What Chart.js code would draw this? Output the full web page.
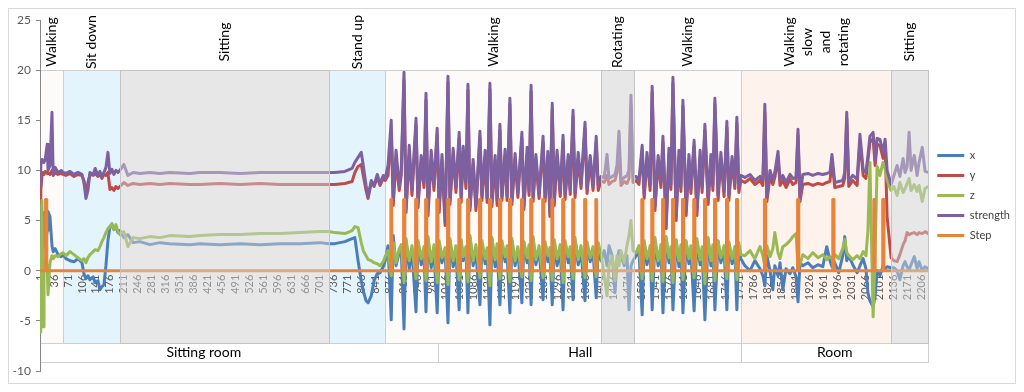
<!DOCTYPE html>
<html>
<head>
<meta charset="utf-8">
<title>Accelerometer activity chart</title>
<script src="https://cdn.jsdelivr.net/npm/chart.js@4.4.1/dist/chart.umd.min.js"></script>
<style>
  html, body { margin: 0; padding: 0; background: #fff; }
</style>
</head>
<body>
<canvas id="chart" width="1024" height="392"></canvas>
<script>
var sampleIdx = [
  1, 3, 6, 9, 11, 14, 19, 21, 26, 31, 34, 39, 46, 54,
  59, 66, 76, 86, 96, 106, 111, 116, 121, 126, 134, 139, 146, 151, 156, 161, 166, 171, 176, 181, 186, 191, 196, 201,
  211, 221, 234, 251, 276, 301, 326, 376, 401, 451, 502, 552, 602, 652, 702, 724,
  739, 764, 782, 789, 797, 805, 810, 817, 822, 830, 837, 845, 852, 860, 865,
  872, 880, 885, 892, 900, 905,
  912, 917, 925, 932, 942, 947, 955, 962, 967, 972, 980, 987, 995, 1000, 1007, 1015,
  1022, 1027, 1035, 1042, 1050, 1055, 1060, 1067, 1072, 1077, 1085, 1092, 1102, 1107, 1115, 1120,
  1127, 1132, 1140, 1145, 1152, 1157, 1165, 1170, 1177, 1182, 1190, 1197, 1207, 1212, 1220, 1225,
  1230, 1235, 1242, 1250, 1260, 1265, 1272, 1277, 1283, 1288, 1295, 1303, 1310, 1315, 1323, 1328,
  1335, 1340, 1348, 1355, 1365, 1370, 1378, 1385, 1393, 1398, 1405,
  1413, 1420, 1425, 1433, 1440, 1445, 1450, 1455, 1463, 1470, 1475, 1480, 1485,
  1493, 1500, 1508, 1513, 1520, 1528, 1533, 1540, 1548, 1555, 1560, 1568, 1575, 1580, 1585, 1593, 1600, 1605,
  1610, 1618, 1625, 1630, 1638, 1645, 1653, 1658, 1665, 1673, 1680, 1685, 1690, 1698, 1705, 1713,
  1720, 1725, 1733, 1740, 1745, 1750, 1755,
  1765, 1778, 1790, 1803, 1810, 1815, 1820, 1828, 1835, 1840, 1848, 1853, 1860, 1868, 1878, 1885,
  1893, 1898, 1903, 1910, 1923, 1935, 1948, 1960, 1970, 1978, 1983, 1990, 2000, 2010, 2015, 2020,
  2025, 2035, 2046, 2053, 2061, 2068, 2073, 2078, 2086, 2091, 2096, 2103, 2111, 2116, 2121, 2131,
  2138, 2146, 2153, 2161, 2166, 2171, 2176, 2181, 2189, 2196, 2201, 2209, 2216, 2224
];

var accX = [
  0.0, 1.5, 0.5, 3.0, 5.8, 2.5, 4.0, 5.9, 5.4, 2.5, 1.9, 2.2, 1.6, 1.4,
  1.6, 1.2, 1.0, 0.9, 1.2, 0.8, -0.3, -0.8, -0.5, -0.9, -0.6, -1.2, -1.0, -1.9, -1.6, -1.4, 0.5, 3.0, 4.4, 4.6, 4.1, 4.4, 3.8, 4.0,
  3.3, 3.6, 2.8, 2.9, 2.6, 2.8, 2.7, 2.6, 2.7, 2.6, 2.7, 2.6, 2.7, 2.7, 2.8, 2.7,
  2.7, 2.9, 3.2, 3.3, 1.0, -1.0, -2.0, -3.0, -3.2, -2.5, -1.0, -0.3, -0.2, 0.4, 1.0,
  2.5, -4.9, 3.5, 0.5, 1.8, 2.2,
  -5.8, 3.0, 0.2, 2.0, -4.1, 2.8, 0.6, 1.6, -4.1, 3.2, 0.3, 2.0, -4.2, 2.6, 0.8, 1.9,
  -5.2, 3.0, 0.4, 1.7, -3.9, 2.9, 1.0, 2.1, -4.2, 3.3, 0.5, 1.8, -3.4, 2.7, 0.7, 1.9,
  -5.4, 3.1, 0.4, 2.2, -3.4, 2.6, 0.9, 1.7, -4.2, 3.0, 0.5, 2.0, -3.2, 2.8, 0.8, 1.8,
  -3.4, 3.2, 0.6, 2.1, -2.9, 2.5, 0.9, 1.8, -3.4, 2.9, 0.5, 2.0, -3.9, 2.7, 0.8, 1.9,
  -2.9, 3.0, 0.6, 2.0, -3.0, 2.6, 0.9, 1.9, -2.7, 2.4, 1.0,
  2.0, 0.5, 2.5, 1.5, -2.2, 1.0, 2.0, 1.5, 0.5, 1.5, -3.9, 0.5, 1.0,
  1.5, 2.0, -4.4, 2.8, 0.6, 2.0, -3.9, 3.0, 0.5, 2.1, -4.2, 3.2, 0.8, 1.9, -3.9, 3.0, 0.4, 2.2,
  -4.2, 2.8, 0.7, 2.0, -4.0, 2.9, 0.6, 1.9, -4.9, 3.1, 0.5, 2.0, -3.9, 2.9, 0.8, 2.1,
  -3.9, 2.7, 0.7, 1.9, -3.9, 2.5, 1.2,
  0.5, 0.0, 1.0, 0.2, -0.5, -1.5, 1.5, 0.0, -1.9, 0.5, -0.5, 0.8, -1.9, 0.2, -0.3, 0.3,
  -0.6, -3.1, 0.8, 0.5, 0.8, 0.3, 0.6, 0.4, 2.4, 1.0, 0.4, 0.8, -0.2, 1.5, 3.4, 1.0,
  1.5, 0.6, -0.2, 0.5, 1.2, 0.2, -2.2, -3.0, -3.6, -2.5, 0.0, -0.5, 0.5, 0.2, 0.4, 0.3,
  0.3, 0.0, -0.9, 0.5, 0.9, 0.4, 0.1, 0.6, 1.4, 0.2, 0.9, 0.0, 0.4, 0.2
];

var accY = [
  6.8, 8.0, 9.5, 9.8, 9.6, 9.9, 9.7, 9.8, 9.6, 10.0, 9.5, 9.8, 9.6, 9.7,
  9.6, 9.5, 9.7, 9.4, 9.6, 9.5, 9.0, 7.8, 8.8, 9.6, 9.5, 9.7, 9.4, 9.6, 9.2, 9.6, 9.5, 9.8, 8.1, 8.3, 8.0, 8.4, 8.2, 8.4,
  8.8, 8.5, 8.7, 8.6, 8.7, 8.6, 8.7, 8.6, 8.6, 8.7, 8.6, 8.7, 8.6, 8.6, 8.6, 8.6,
  8.6, 8.7, 8.9, 9.8, 10.4, 10.6, 9.5, 8.0, 7.2, 8.8, 8.4, 9.3, 8.5, 9.2, 9.0,
  9.5, 14.0, 6.5, 11.0, 8.0, 9.5,
  19.0, 5.8, 11.5, 7.5, 14.5, 6.3, 10.8, 8.3, 17.0, 5.5, 11.2, 8.0, 13.6, 5.8, 11.0, 4.5,
  18.8, 6.6, 11.5, 7.8, 13.2, 6.8, 11.8, 8.2, 18.0, 6.0, 10.6, 6.0, 13.3, 7.0, 11.3, 6.8,
  18.1, 6.4, 11.0, 6.5, 14.0, 7.0, 11.4, 7.0, 16.6, 6.6, 11.1, 7.3, 13.2, 6.1, 11.6, 7.5,
  17.9, 6.9, 11.0, 7.2, 12.8, 6.9, 11.3, 5.4, 16.1, 6.5, 11.4, 7.4, 12.9, 7.1, 11.0, 7.6,
  15.4, 7.3, 11.2, 8.2, 14.2, 7.7, 11.0, 8.0, 12.8, 8.0, 9.0,
  8.8, 9.5, 8.6, 8.9, 9.0, 9.8, 12.5, 8.5, 8.9, 8.7, 9.2, 16.5, 8.8,
  9.0, 8.6, 12.0, 7.2, 11.2, 8.0, 17.8, 6.0, 11.0, 8.3, 12.8, 4.2, 11.6, 8.1, 18.7, 5.0, 11.3, 7.9,
  16.4, 5.5, 11.0, 7.7, 12.4, 5.5, 11.3, 7.8, 14.0, 6.6, 11.0, 8.0, 16.6, 7.0, 11.2, 7.4,
  14.3, 7.0, 10.9, 8.2, 14.7, 7.8, 9.0,
  8.8, 9.2, 8.6, 9.0, 8.5, 15.8, 6.9, 9.4, 8.6, 9.3, 11.3, 8.5, 9.0, 8.3, 9.1, 8.6,
  8.8, 13.5, 6.9, 8.6, 8.7, 8.5, 8.7, 8.6, 8.8, 8.9, 11.0, 8.3, 8.4, 8.5, 9.2, 15.2,
  8.4, 9.0, 8.5, 13.0, 9.5, 9.2, 11.0, 12.8, 13.2, 10.5, 12.6, 12.5, 11.2, 12.5, 5.4, 1.3,
  1.0, 0.9, 1.6, 2.6, 3.0, 3.8, 3.6, 3.7, 3.8, 3.6, 3.8, 3.7, 3.9, 3.7
];

var accZ = [
  -1.0, -6.1, 7.0, -5.6, 1.0, 0.5, 0.5, -2.4, 0.8, 1.5, 1.2, 1.5, 1.4, 1.7,
  1.8, 1.5, 1.9, 1.6, 1.3, 1.0, 1.2, 0.8, 1.3, 1.6, 1.9, 2.1, 2.0, 2.4, 2.9, 3.3, 3.8, 4.2, 4.4, 4.7, 4.1, 4.6, 3.9, 3.6,
  3.9, 2.4, 3.3, 3.2, 3.4, 3.3, 3.5, 3.4, 3.5, 3.6, 3.6, 3.7, 3.7, 3.8, 3.9, 3.9,
  3.8, 3.7, 4.0, 4.4, 4.3, 2.8, 2.0, 1.5, 1.1, 1.0, 0.8, 0.7, 0.5, 0.9, 1.4,
  2.0, -0.5, 2.8, 0.8, 2.2, 2.6,
  -1.2, 3.2, 1.0, 2.5, -0.8, 3.0, 1.2, 2.4, -1.0, 3.4, 0.9, 2.6, -1.2, 3.0, 1.3, 2.3,
  -1.4, 3.2, 1.0, 2.5, -0.9, 3.1, 1.4, 2.4, -1.1, 3.5, 1.0, 2.6, -0.7, 3.0, 1.2, 2.3,
  -1.5, 3.3, 1.1, 2.7, -0.8, 3.0, 1.4, 2.5, -1.1, 3.2, 1.0, 2.4, -0.6, 2.9, 1.3, 2.6,
  -1.0, 3.4, 1.1, 2.5, -0.7, 2.9, 1.5, 2.3, -1.0, 3.1, 1.2, 2.6, -1.2, 3.0, 1.4, 2.4,
  -0.8, 3.3, 1.1, 2.5, -0.7, 2.9, 1.3, 2.4, -0.6, 2.8, 1.6,
  -0.5, -2.5, 0.5, 1.5, -1.0, 1.5, 0.5, 2.0, 0.8, 2.5, 3.5, 5.0, 2.0,
  1.8, 2.5, -0.8, 3.0, 1.2, 2.5, -1.0, 3.3, 1.0, 2.6, -1.1, 3.4, 1.3, 2.4, -1.2, 3.1, 1.0, 2.6,
  -0.9, 3.0, 1.2, 2.5, -0.7, 3.2, 1.1, 2.4, -1.3, 3.3, 1.0, 2.6, -1.0, 3.0, 1.3, 2.5,
  -0.8, 2.9, 1.2, 2.4, -0.9, 2.8, 1.6,
  1.5, 2.0, 1.2, 2.4, 1.5, 0.5, 2.5, 1.4, 2.2, 3.8, 1.8, 1.2, 2.4, 2.6, 3.0, 3.4,
  3.7, 0.4, 0.6, 1.6, 1.2, 1.8, 1.3, 1.6, 1.1, 1.4, 1.2, 1.6, 1.2, 2.2, 3.1, 1.8,
  1.5, 1.1, 1.5, 1.2, 1.9, 1.5, 4.0, 10.8, -4.6, 2.0, 10.4, 9.5, 10.8, 10.2, 9.0, 8.0,
  8.4, 7.5, 8.8, 7.8, 8.2, 8.7, 9.2, 8.0, 8.6, 7.9, 8.5, 6.9, 8.2, 8.4
];

var strength = [
  8.5, 10.5, 11.1, 11.0, 10.8, 11.1, 12.6, 10.0, 10.5, 15.8, 9.6, 10.3, 9.8, 10.0,
  9.8, 9.7, 9.9, 9.6, 9.8, 9.6, 8.8, 7.2, 8.0, 9.8, 9.6, 10.2, 9.5, 9.9, 9.4, 9.8, 10.3, 11.8, 9.7, 10.1, 9.6, 10.0, 9.8, 10.0,
  10.6, 9.5, 9.8, 9.7, 9.8, 9.7, 9.8, 9.7, 9.8, 9.8, 9.7, 9.8, 9.8, 9.8, 9.8, 9.8,
  9.8, 9.9, 10.2, 10.8, 11.3, 11.8, 10.5, 8.5, 7.4, 9.0, 8.5, 9.6, 8.7, 9.5, 9.2,
  10.5, 15.0, 7.0, 12.0, 8.5, 10.0,
  19.8, 6.1, 12.5, 8.0, 15.2, 6.8, 11.5, 8.8, 17.7, 6.0, 12.0, 8.6, 14.2, 6.3, 11.6, 4.8,
  19.4, 7.0, 12.2, 8.3, 13.8, 7.4, 12.4, 8.8, 18.6, 6.4, 11.1, 6.4, 13.9, 7.5, 12.0, 7.2,
  18.7, 6.9, 11.5, 7.0, 14.6, 7.4, 12.1, 7.4, 17.2, 7.0, 11.7, 7.7, 13.8, 6.4, 12.3, 7.9,
  18.5, 7.3, 11.6, 7.6, 13.4, 7.3, 11.9, 5.8, 16.7, 7.0, 12.0, 7.9, 13.5, 7.6, 11.6, 8.0,
  16.0, 7.8, 11.8, 8.6, 14.8, 8.2, 11.5, 8.4, 13.4, 8.5, 9.4,
  9.3, 11.6, 9.2, 9.4, 9.6, 10.5, 13.9, 9.0, 9.3, 9.5, 10.0, 17.5, 9.3,
  9.4, 9.0, 12.5, 7.6, 11.8, 8.5, 18.4, 6.4, 11.5, 8.8, 13.4, 4.6, 12.2, 8.6, 19.3, 5.4, 12.0, 8.4,
  17.0, 5.9, 11.6, 8.2, 13.0, 6.0, 12.0, 8.3, 14.6, 7.1, 11.6, 8.5, 17.2, 7.5, 11.8, 7.9,
  14.9, 7.5, 11.4, 8.7, 15.3, 8.2, 9.5,
  9.3, 9.6, 9.0, 9.4, 9.0, 16.6, 7.3, 10.0, 9.0, 9.8, 11.9, 9.0, 9.5, 8.8, 9.6, 9.2,
  9.3, 14.1, 7.3, 9.6, 9.7, 9.5, 9.7, 9.6, 9.7, 9.8, 11.6, 8.8, 8.9, 9.0, 9.8, 15.8,
  8.9, 9.5, 9.1, 13.6, 10.1, 9.8, 11.5, 13.4, 13.8, 11.0, 13.2, 13.1, 11.8, 13.1, 10.0, 8.6,
  9.5, 10.5, 9.4, 11.2, 9.8, 10.4, 13.8, 10.0, 11.5, 9.5, 10.8, 12.3, 9.9, 9.8
];

// detected steps: sample number and height of each pulse
var stepIdx = [16, 880, 912, 942, 967, 995, 1022, 1050, 1072, 1102, 1127, 1152, 1177, 1207, 1230, 1260,
  1283, 1310, 1335, 1365, 1393, 1508, 1533, 1560, 1585, 1610, 1638, 1665, 1690, 1720, 1745,
  1815, 1898, 1986, 2089, 2111];
var stepVal = [7.1, 7.1, 7.1, 7.1, 7.1, 7.1, 7.1, 7.1, 7.1, 7.1, 7.1, 7.1, 7.1, 7.1, 7.1, 7.1,
  7.1, 7.1, 7.1, 7.1, 7.1, 7.1, 7.1, 7.1, 7.1, 7.1, 7.1, 7.1, 7.1, 7.1, 7.1,
  7.1, 7.1, 7.1, 7.1, 7.1];
var lastSample = 2224;

// category tick labels
var tickValues = [1, 36, 71, 106, 141, 176, 211, 246, 281, 316, 351, 386, 421, 456, 491, 526, 561, 596, 631, 666,
  701, 736, 771, 806, 841, 876, 911, 946, 981, 1016, 1051, 1086, 1121, 1156, 1191, 1226, 1261, 1296, 1331, 1366,
  1401, 1436, 1471, 1506, 1541, 1576, 1611, 1646, 1681, 1716, 1751, 1786, 1821, 1856, 1891, 1926, 1961, 1996,
  2031, 2066, 2101, 2136, 2171, 2206];

// activity bands and location bands (edges in sample numbers)
var activityLabels = ['Walking', 'Sit down', 'Sitting', 'Stand up', 'Walking', 'Rotating', 'Walking',
  'Walking\nslow\nand\nrotating', 'Sitting'];
var activityEdges = [1, 59, 201, 724, 865, 1405, 1488, 1755, 2131, 2224];
var locationLabels = ['Sitting room', 'Hall', 'Room'];
var locationEdges = [1, 997, 1755, 2224];
var locationTextAt = [411, 1353, 1990];

var bandFill = {
  'Walking': '#fdfbf9',
  'Sit down': '#e3f4fc',
  'Stand up': '#e3f4fc',
  'Walking slow and rotating': '#fdf2ec'
};
var bandOverlay = {
  'Sitting': 'rgba(208,208,208,0.5)',
  'Rotating': 'rgba(208,208,208,0.5)'
};

function toPoints(values) {
  return sampleIdx.map(function (idx, k) { return { x: idx, y: values[k] }; });
}

var stepPoints = [{ x: 1, y: 0 }];
stepIdx.forEach(function (idx, k) {
  stepPoints.push({ x: idx - 2, y: 0 }, { x: idx - 1, y: stepVal[k] }, { x: idx + 1, y: stepVal[k] }, { x: idx + 2, y: 0 });
});
stepPoints.push({ x: lastSample, y: 0 });

var bandsPlugin = {
  id: 'bands',
  beforeDraw: function (chart) {
    var ctx = chart.ctx, xs = chart.scales.x, ys = chart.scales.y;
    var top = Math.round(ys.getPixelForValue(20)) + 0.5;
    var bot = Math.round(ys.getPixelForValue(-7.2)) + 0.5;
    var locBot = Math.round(ys.getPixelForValue(-9.1)) + 0.5;
    ctx.save();
    ctx.fillStyle = '#ffffff';
    ctx.fillRect(0, 0, chart.width, chart.height);
    ctx.strokeStyle = '#d9d9d9';
    ctx.lineWidth = 1;
    ctx.strokeRect(8.5, 8.5, chart.width - 17, chart.height - 17);

    var i, x0, x1, fill;
    for (i = 0; i < activityLabels.length; i++) {
      x0 = Math.round(xs.getPixelForValue(activityEdges[i])) + 0.5;
      x1 = Math.round(xs.getPixelForValue(activityEdges[i + 1])) + 0.5;
      fill = bandFill[activityLabels[i].replace(/\n/g, ' ')];
      if (fill) {
        ctx.fillStyle = fill;
        ctx.fillRect(x0, top, x1 - x0, bot - top);
      }
      ctx.strokeStyle = '#cfcfcf';
      ctx.strokeRect(x0, top, x1 - x0, bot - top);
    }
    // location row
    ctx.strokeStyle = '#cfcfcf';
    for (i = 0; i < locationLabels.length; i++) {
      x0 = Math.round(xs.getPixelForValue(locationEdges[i])) + 0.5;
      x1 = Math.round(xs.getPixelForValue(locationEdges[i + 1])) + 0.5;
      ctx.strokeRect(x0, bot, x1 - x0, locBot - bot);
    }
    ctx.restore();
  },
  afterDatasetsDraw: function (chart) {
    var ctx = chart.ctx, xs = chart.scales.x, ys = chart.scales.y;
    var top = Math.round(ys.getPixelForValue(20)) + 0.5;
    var bot = Math.round(ys.getPixelForValue(-7.2)) + 0.5;
    ctx.save();
    for (var i = 0; i < activityLabels.length; i++) {
      var fill = bandOverlay[activityLabels[i]];
      if (!fill) continue;
      var x0 = Math.round(xs.getPixelForValue(activityEdges[i])) + 0.5;
      var x1 = Math.round(xs.getPixelForValue(activityEdges[i + 1])) + 0.5;
      ctx.fillStyle = fill;
      ctx.fillRect(x0, top, x1 - x0, bot - top);
      ctx.strokeStyle = '#c4c4c4';
      ctx.strokeRect(x0, top, x1 - x0, bot - top);
    }
    ctx.restore();
  },
  afterDraw: function (chart) {
    var ctx = chart.ctx, xs = chart.scales.x, ys = chart.scales.y;
    ctx.save();
    ctx.fillStyle = '#000000';
    ctx.font = '14px Lato';
    ctx.textAlign = 'center';
    ctx.textBaseline = 'middle';
    var cy = ys.getPixelForValue(22.8);
    for (var i = 0; i < activityLabels.length; i++) {
      var cx = xs.getPixelForValue((activityEdges[i] + activityEdges[i + 1]) / 2);
      var lines = activityLabels[i].split('\n');
      ctx.save();
      ctx.translate(cx, cy);
      ctx.rotate(-Math.PI / 2);
      for (var j = 0; j < lines.length; j++) {
        ctx.fillText(lines[j], 0, (j - (lines.length - 1) / 2) * 18);
      }
      ctx.restore();
    }
    var ly = (ys.getPixelForValue(-7.2) + ys.getPixelForValue(-9.1)) / 2;
    for (var k = 0; k < locationLabels.length; k++) {
      ctx.fillText(locationLabels[k], xs.getPixelForValue(locationTextAt[k]), ly);
    }
    ctx.restore();
  }
};

Chart.defaults.font.family = 'Lato';

var chart = new Chart(document.getElementById('chart').getContext('2d'), {
  type: 'line',
  data: {
    datasets: [
      { label: 'x', data: toPoints(accX), borderColor: '#4A7EBB', backgroundColor: '#4A7EBB', borderWidth: 3, order: 5 },
      { label: 'y', data: toPoints(accY), borderColor: '#BE4B48', backgroundColor: '#BE4B48', borderWidth: 3, order: 4 },
      { label: 'z', data: toPoints(accZ), borderColor: '#98B954', backgroundColor: '#98B954', borderWidth: 3, order: 3 },
      { label: 'strength', data: toPoints(strength), borderColor: '#7D60A0', backgroundColor: '#7D60A0', borderWidth: 3, order: 2 },
      { label: 'Step', data: stepPoints, borderColor: '#E8833A', backgroundColor: '#E8833A', borderWidth: 3, order: 1 }
    ]
  },
  options: {
    responsive: false,
    animation: false,
    layout: { padding: { left: 0, right: 4, top: 20, bottom: 21 } },
    elements: {
      point: { radius: 0, hoverRadius: 0 },
      line: { tension: 0, borderJoinStyle: 'round', borderCapStyle: 'round' }
    },
    plugins: {
      tooltip: { enabled: false },
      legend: {
        position: 'right',
        labels: {
          boxWidth: 27,
          boxHeight: 3,
          padding: 9,
          color: '#404040',
          font: { size: 11 },
          sort: function (a, b) { return a.datasetIndex - b.datasetIndex; },
          generateLabels: function (chart) {
            return Chart.defaults.plugins.legend.labels.generateLabels(chart).map(function (item) {
              item.lineWidth = 0;
              item.fillStyle = item.strokeStyle;
              return item;
            });
          }
        }
      }
    },
    scales: {
      x: {
        type: 'linear',
        min: 1,
        max: lastSample,
        position: { y: 0 },
        afterBuildTicks: function (scale) {
          scale.ticks = tickValues.map(function (v) { return { value: v }; });
        },
        grid: { display: false, drawTicks: false },
        border: { display: true, color: '#868686' },
        ticks: {
          autoSkip: false,
          minRotation: 90,
          maxRotation: 90,
          padding: 4,
          color: '#595959',
          font: { size: 11 },
          callback: function (v) { return String(v); }
        }
      },
      y: {
        min: -10,
        max: 25,
        afterFit: function (scale) { scale.width = 40; },
        grid: { display: true, drawOnChartArea: false, drawTicks: true, tickLength: 4, color: '#868686' },
        border: { display: true, color: '#868686' },
        ticks: { stepSize: 5, padding: 5, color: '#595959', font: { size: 12 } }
      }
    }
  },
  plugins: [bandsPlugin]
});
</script>
</body>
</html>
